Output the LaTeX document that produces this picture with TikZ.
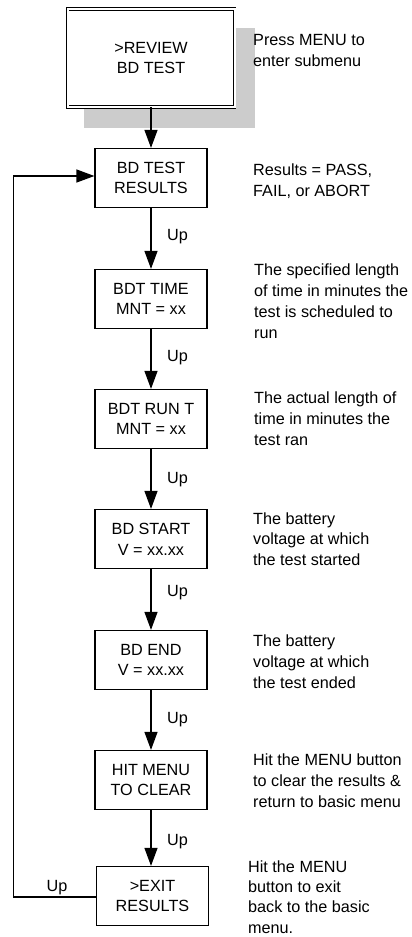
\documentclass[tikz,border=0pt]{standalone}
\usepackage{fontspec}
\setmainfont{Liberation Sans}
\usetikzlibrary{arrows.meta}
\begin{document}
\begin{tikzpicture}[x=1pt,y=-1pt,
  font=\fontsize{16.2}{20.8}\selectfont,
  menubox/.style={draw,line width=1.2pt,fill=white,minimum width=112pt,minimum height=59pt,
    align=center,inner sep=0pt},
  note/.style={anchor=base west,align=left,inner sep=0pt},
  uplabel/.style={anchor=base west,inner sep=0pt},
  flow/.style={line width=1.2pt,-{Triangle[length=18pt,width=13pt]}}]
\useasboundingbox (0,0) rectangle (412,937);

% drop shadow behind the entry screen
\fill[black!20] (84,28) rectangle (255,128);

% menu screens
\node[draw,double,double distance=2pt,line width=0.9pt,fill=white,
      minimum width=167pt,minimum height=98pt,align=center,inner sep=0pt]
      (review) at (151,58) {>REVIEW\\BD TEST};
\node[menubox] (results) at (151,178) {BD TEST\\RESULTS};
\node[menubox] (time)    at (151,299) {BDT TIME\\MNT = xx};
\node[menubox] (run)     at (151,419) {BDT RUN T\\MNT = xx};
\node[menubox] (start)   at (151,539) {BD START\\V = xx.xx};
\node[menubox] (end)     at (151,660) {BD END\\V = xx.xx};
\node[menubox] (clear)   at (151,780) {HIT MENU\\TO CLEAR};
\node[menubox] (exit)    at (152.5,896) {>EXIT\\RESULTS};

% explanations (positioned by the baseline of their last line)
\node[note] (n1) at (253,66.7)  {Press MENU to\\enter submenu};
\node[note] (n2) at (253,196.7) {Results = PASS,\\FAIL, or ABORT};
\node[note] (n3) at (254,338)   {The specified length\\of time in minutes the\\test is scheduled to\\run};
\node[note] (n4) at (254,445)   {The actual length of\\time in minutes the\\test ran};
\node[note] (n5) at (253,565.7) {The battery\\voltage at which\\the test started};
\node[note] (n6) at (253,688)   {The battery\\voltage at which\\the test ended};
\node[note] (n7) at (253,807)   {Hit the MENU button\\to clear the results \&\\return to basic menu};
\node[note,font=\fontsize{16.2}{20.3}\selectfont] (n8) at (248,933) {Hit the MENU\\button to exit\\back to the basic\\menu.};

% transitions
\draw[flow] (review) -- (results);
\draw[flow] (results) -- (time);
\draw[flow] (time) -- (run);
\draw[flow] (run) -- (start);
\draw[flow] (start) -- (end);
\draw[flow] (end) -- (clear);
\draw[flow] (clear.south) -- (clear.south |- exit.north);

\coordinate (loopx) at (13.5,0);
\draw[flow] ([yshift=-1pt]exit.west) -- ([yshift=-1pt]exit.west -| loopx) |- ([yshift=2pt]results.west);

% key labels
\node[uplabel] (u1) at (167,240.7) {Up};
\node[uplabel] (u2) at (167,361.7) {Up};
\node[uplabel] (u3) at (167,483.3) {Up};
\node[uplabel] (u4) at (167,596)   {Up};
\node[uplabel] (u5) at (167,723.3) {Up};
\node[uplabel] (u6) at (167,845)   {Up};
\node[anchor=base,inner sep=0pt] (u7) at (57,891.7) {Up};
\end{tikzpicture}
\end{document}
